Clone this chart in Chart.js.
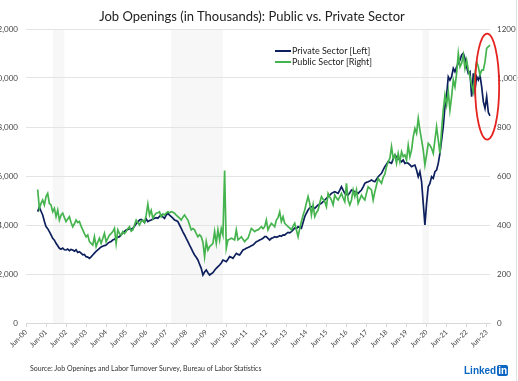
<!DOCTYPE html>
<html>
<head>
<meta charset="utf-8">
<script src="https://cdn.jsdelivr.net/npm/chart.js@4.4.1/dist/chart.umd.min.js"></script>
<style>
  html, body { margin: 0; padding: 0; background: #fff; }
  body { width: 518px; height: 381px; overflow: hidden; position: relative; font-family: Lato, "Open Sans", sans-serif; }
  #wrap { position: absolute; left: -5px; top: 0; width: 523px; height: 381px; }
  #title { position: absolute; top: 8px; left: 0; width: 504px; text-align: center; font-size: 13px; color: #222; white-space: nowrap; }
  .leg { position: absolute; left: 275px; font-size: 9px; color: #222; white-space: nowrap; line-height: 10px; }
  .leg i { display: inline-block; width: 16px; height: 2px; vertical-align: middle; margin-right: 1px; position: relative; top: -1px; }
  #source { position: absolute; left: 30px; top: 364px; font-size: 7px; color: #333; white-space: nowrap; }
  #logo { position: absolute; left: 464px; top: 365px; font-family: "Liberation Sans", Arial, sans-serif; font-weight: bold; font-size: 10px; color: #0a66c2; white-space: nowrap; line-height: 11px; }
  #logo b { display: inline-block; background: #0a66c2; color: #fff; border-radius: 2px; padding: 0 1px; margin-left: 1px; }
  #edge { position: absolute; right: 1px; top: 0; width: 1px; height: 381px; background: #e2e2e2; }
</style>
</head>
<body>
<div id="wrap"><canvas id="c" width="523" height="381"></canvas></div>
<div id="title">Job Openings (in Thousands): Public vs. Private Sector</div>
<div class="leg" style="top:46px"><i style="background:#0d1f5c"></i>Private Sector [Left]</div>
<div class="leg" style="top:57px"><i style="background:#45b44e"></i>Public Sector [Right]</div>
<div id="source">Source: Job Openings and Labor Turnover Survey, Bureau of Labor Statistics</div>
<div id="logo">Linked<b>in</b></div>
<div id="edge"></div>
<script>
// Year tick labels (one per June)
const tickLabels = ["Jun-00","Jun-01","Jun-02","Jun-03","Jun-04","Jun-05","Jun-06","Jun-07","Jun-08","Jun-09","Jun-10","Jun-11","Jun-12","Jun-13","Jun-14","Jun-15","Jun-16","Jun-17","Jun-18","Jun-19","Jun-20","Jun-21","Jun-22","Jun-23"];
const monthNames = ["Jun","Jul","Aug","Sep","Oct","Nov","Dec","Jan","Feb","Mar","Apr","May"];
const extraMonths = ["Jul-23","Aug-23"];

// Private sector job openings (thousands), monthly from Jun-00 (left axis)
const privateSector = [null,null,null,null,null,null,null,
 4544,4721,4560,4408,4150,3932,3850,3728,3600,3456,3380,3252,
 3150,3048,3010,3060,2990,2980,3020,2950,3000,2980,2930,2990,
 2880,2912,2850,2780,2800,2708,2690,2640,2700,2776,2850,2920,
 2980,3048,3100,3130,3160,3184,3250,3300,3330,3388,3420,3470,
 3500,3524,3600,3680,3740,3796,3820,3850,3830,3864,3950,4050,
 4120,4204,4230,4180,4100,4250,4136,4180,4204,4240,4272,4300,
 4272,4350,4408,4330,4272,4400,4476,4400,4340,4280,4204,4180,
 4136,4000,3864,3720,3592,3450,3320,3180,3048,2900,2776,2680,
 2572,2400,2232,1960,2080,2164,2050,1960,2010,2055,2150,2232,
 2300,2368,2450,2572,2540,2504,2600,2708,2680,2640,2740,2844,
 2800,2776,2880,2980,3010,3048,3080,3116,3150,3184,3250,3320,
 3350,3388,3420,3456,3524,3524,3450,3388,3456,3480,3520,3500,
 3524,3560,3540,3600,3592,3650,3700,3680,3728,3800,3880,3850,
 3932,3900,3864,4100,4340,4480,4612,4700,4748,4720,4680,4750,
 4816,4850,4884,4950,5020,5090,5156,5220,5292,5330,5360,5330,
 5292,5420,5564,5420,5292,5250,5224,5320,5428,5400,5360,5330,
 5292,5360,5428,5560,5700,5740,5768,5800,5836,5800,5768,5870,
 5972,6040,6108,6250,6380,6480,6584,6550,6516,6700,6856,6780,
 6720,6650,6584,6652,6516,6540,6516,6450,6380,6420,6448,6244,
 5972,6176,5768,4884,4000,4884,5564,5700,5972,5904,6176,6244,
 6516,6924,7468,8012,8828,9304,10052,9916,10052,10392,10256,10460,
 10596,10732,10936,11004,10800,10460,10188,10256,9236,10188,9508,10052,
 9916,10120,9644,9032,8760,9236,8600,8450];

// Public sector job openings (thousands), monthly from Jun-00 (right axis)
const publicSector = [null,null,null,null,null,null,null,
 545,468,488,502,482,516,529,488,482,454,468,434,
 461,420,440,448,430,414,425,434,410,393,405,420,
 410,414,395,380,365,352,359,332,325,318,352,312,
 330,346,325,345,366,332,345,359,365,373,386,325,
 380,365,359,373,365,373,385,393,375,380,400,420,
 410,400,415,420,410,440,485,441,460,427,440,448,
 450,454,434,445,441,448,454,450,454,452,448,440,
 434,428,420,432,441,430,420,400,380,385,380,365,
 352,360,352,330,271,332,298,312,318,325,373,325,
 380,339,386,360,622,305,339,342,346,343,339,380,
 339,345,352,342,332,340,346,365,386,380,373,378,
 380,386,393,385,393,420,380,395,407,400,393,420,
 430,454,414,434,407,400,393,388,380,395,407,380,
 352,385,414,440,461,490,516,488,441,482,434,450,
 461,490,516,505,495,475,529,515,502,482,522,510,
 502,515,529,510,495,570,502,482,502,543,516,543,
 488,505,522,510,502,530,556,550,543,502,535,563,
 590,580,570,595,607,638,658,672,720,672,686,652,
 692,658,699,679,686,665,726,679,706,760,794,774,
 835,788,747,706,645,686,733,726,713,692,747,801,
 747,692,788,869,930,890,944,869,924,992,964,1019,
 1100,1046,1060,1094,1039,1073,1032,1005,971,944,1019,1066,
 1046,1012,1032,1032,1066,1121,1128,1134];

// Recession shading, in month positions from Jun-00
const recessions = [[16, 23], [87, 118], [237.5, 241.5]];

// Monthly category labels built from the year ticks
const labels = [];
tickLabels.forEach((t, y) => {
  const yy = t.slice(4);
  monthNames.forEach((m, k) => {
    const lab = m + "-" + (k < 7 ? yy : String(parseInt(yy, 10) + 1).padStart(2, "0"));
    if (y < tickLabels.length - 1 || k === 0) labels.push(lab);
  });
});
extraMonths.forEach(m => labels.push(m));

const shadePlugin = {
  id: 'shade',
  beforeDraw(chart) {
    const { ctx, chartArea, scales } = chart;
    ctx.save();
    ctx.fillStyle = '#f7f7f7';
    recessions.forEach(([a, b]) => {
      const x1 = scales.x.getPixelForValue(a), x2 = scales.x.getPixelForValue(b);
      ctx.fillRect(x1, chartArea.top, x2 - x1, chartArea.bottom - chartArea.top);
    });
    ctx.restore();
  }
};

const circlePlugin = {
  id: 'circle',
  afterDatasetsDraw(chart) {
    const { ctx, scales } = chart;
    const cx = scales.x.getPixelForValue(274.5);
    const cy = scales.y.getPixelForValue(9650);
    ctx.save();
    ctx.strokeStyle = '#e5231f';
    ctx.lineWidth = 1.8;
    ctx.beginPath();
    ctx.ellipse(cx + 3, cy, 12, 53, 0, 0, Math.PI * 2);
    ctx.stroke();
    ctx.restore();
  }
};

new Chart(document.getElementById('c'), {
  type: 'line',
  data: {
    labels: labels,
    datasets: [
      { label: 'Public Sector [Right]', data: publicSector, yAxisID: 'y1', borderColor: '#45b44e', borderWidth: 1.7, pointRadius: 0, tension: 0, fill: false },
      { label: 'Private Sector [Left]', data: privateSector, yAxisID: 'y', borderColor: '#0d1f5c', borderWidth: 1.7, pointRadius: 0, tension: 0, fill: false }
    ]
  },
  options: {
    responsive: false,
    devicePixelRatio: 1,
    animation: false,
    layout: { padding: { top: 29, bottom: 18, left: 0, right: 0 } },
    plugins: { legend: { display: false }, tooltip: { enabled: false }, title: { display: false } },
    scales: {
      x: {
        type: 'category',
        grid: {
          drawOnChartArea: false, drawTicks: true, tickLength: 4,
          color: (c) => (c.index % 12 === 0 ? '#d8d8d8' : 'rgba(0,0,0,0)')
        },
        border: { display: true, color: '#d8d8d8' },
        ticks: {
          autoSkip: false, maxRotation: 45, minRotation: 45, padding: 1,
          font: { family: 'Lato', size: 7 }, color: '#444',
          callback: function (v, i) { return i % 12 === 0 ? this.getLabelForValue(v) : ''; }
        },
        afterFit: (s) => { s.height = 40; }
      },
      y: {
        position: 'left', min: 0, max: 12000,
        ticks: { stepSize: 2000, padding: 8, font: { family: 'Lato', size: 8 }, color: '#444',
          callback: (v) => v.toLocaleString('en-US') },
        grid: { color: '#e4e4e4', drawTicks: false },
        border: { display: false },
        afterFit: (s) => { s.width = 31; }
      },
      y1: {
        position: 'right', min: 0, max: 1200,
        ticks: { stepSize: 200, padding: 7, font: { family: 'Lato', size: 8 }, color: '#444',
          callback: (v) => (v === 1200 ? '1200' : v.toLocaleString('en-US')) },
        grid: { display: false, drawTicks: false },
        border: { display: false },
        afterFit: (s) => { s.width = 28; }
      }
    }
  },
  plugins: [shadePlugin, circlePlugin]
});
</script>
</body>
</html>
